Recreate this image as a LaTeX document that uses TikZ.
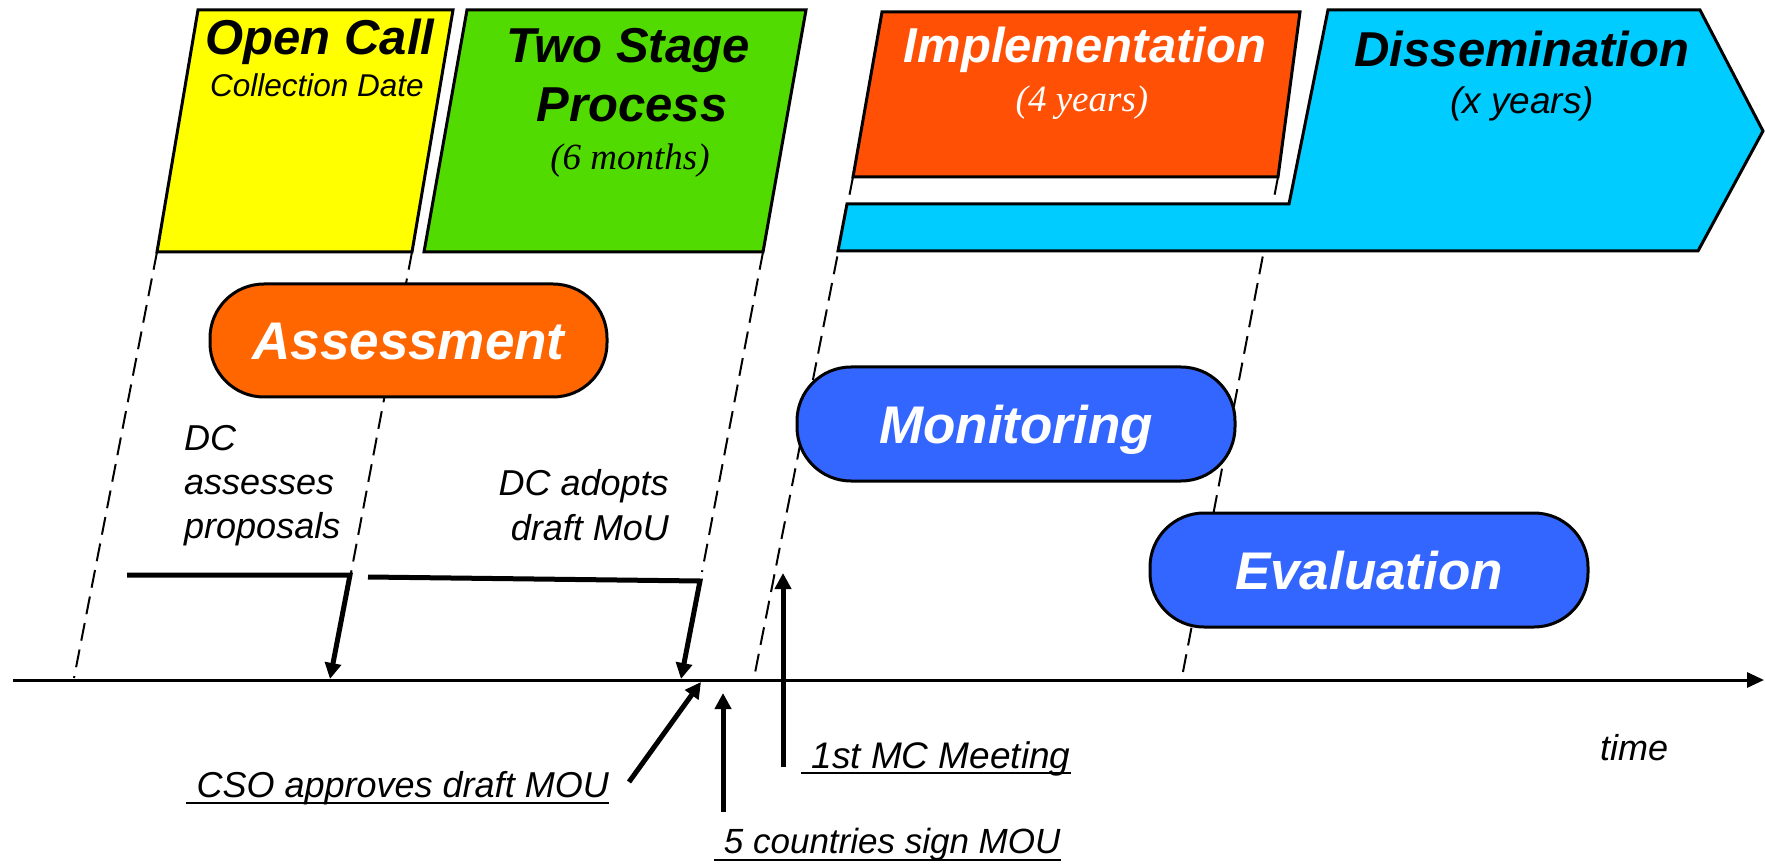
\documentclass[tikz,border=0pt]{standalone}
\usepackage{fontspec}
\setmainfont{Liberation Sans}
\newfontfamily\timesf{Liberation Serif}
\usetikzlibrary{arrows.meta}
\definecolor{ycol}{HTML}{FFFF00}
\definecolor{gcol}{HTML}{52DB00}
\definecolor{icol}{HTML}{FF5005}
\definecolor{dcol}{HTML}{00CCFF}
\definecolor{acol}{HTML}{FF6600}
\definecolor{bcol}{HTML}{3366FF}
\newcommand\fsz[1]{\fontsize{#1}{#1}\selectfont}
\begin{document}
\begin{tikzpicture}[x=1pt,y=-1pt,
  phase/.style={draw=black,line width=3pt,line join=miter},
  pill/.style={draw=black,line width=3pt,rounded corners=54pt,inner sep=0pt,
     text height=38pt,text depth=0pt,font=\fsz{53}\bfseries\itshape,text=white},
  guide/.style={line width=2pt,dash pattern=on 18pt off 9pt},
  title/.style={inner sep=0pt,anchor=base,font=\fsz{49}\bfseries\itshape},
  sub/.style={inner sep=0pt,anchor=base},
  lbl/.style={inner sep=0pt,anchor=base west,font=\fsz{36}\itshape},
  lblr/.style={inner sep=0pt,anchor=base east,font=\fsz{36}\itshape},
  heavy/.style={line width=5pt,line join=miter,-{Triangle[length=16pt,width=16pt]}},
  uline/.style={line width=2.5pt},
]
\useasboundingbox (0,0) rectangle (1765,866);
\fill[white] (0,0) rectangle (1765,866);

% dashed guide lines
\coordinate (g1a) at (157,252); \coordinate (g1b) at (74,678);
\coordinate (g2a) at (412,252); \coordinate (g2b) at (351,573);
\coordinate (g3a) at (763,252); \coordinate (g3b) at (702,572);
\coordinate (g4a) at (853,177); \coordinate (g4b) at (754,678);
\coordinate (g5a) at (1278,177); \coordinate (g5b) at (1182,677);
\draw[guide] (g1a) -- (g1b);
\draw[guide] (g2a) -- (g2b);
\draw[guide] (g3a) -- (g3b);
\draw[guide] (g4a) -- (g4b);
\draw[guide] (g5a) -- (g5b);

% phase shapes
\draw[phase,fill=ycol] (198,10) -- (453,10) -- (412,252) -- (157,252) -- cycle;
\draw[phase,fill=gcol] (467,10) -- (806,10) -- (763,252) -- (424,252) -- cycle;
\draw[phase,fill=dcol] (838,251) -- (847,204) -- (1289,204) -- (1328,10) -- (1700,10)
   -- (1763,131) -- (1698,251) -- cycle;
\draw[phase,fill=icol] (882,12) -- (1300,12) -- (1278,177) -- (853,177) -- cycle;

% phase texts
\node[title] (oc) at (320,55) {Open Call};
\node[sub,font=\fsz{31.5}\itshape] (cd) at (317,97) {Collection Date};
\node[title] (ts1) at (628,63) {Two Stage};
\node[title] (ts2) at (632,122) {Process};
\node[sub,font=\fsz{37}\timesf\itshape] (sm) at (630,170) {(6 months)};
\node[title,text=white] (im) at (1085,63) {Implementation};
\node[sub,font=\fsz{37}\timesf\itshape,text=white] (fy) at (1082,112) {(4 years)};
\node[title] (ds) at (1522,67) {Dissemination};
\node[sub,font=\fsz{37}\itshape] (xy) at (1522,114) {(x years)};

% activity pills
\node[pill,fill=acol,minimum width=397pt,minimum height=113pt] (assess) at (408.5,340.5) {Assessment};
\node[pill,fill=bcol,minimum width=438pt,minimum height=114pt] (monit) at (1016,424) {Monitoring};
\node[pill,fill=bcol,minimum width=438pt,minimum height=114pt] (evalu) at (1369,570) {Evaluation};

% labels above axis
\node[lbl] (dc1) at (184,450) {DC};
\node[lbl] (dc2) at (184,494) {assesses};
\node[lbl] (dc3) at (184,538) {proposals};
\node[lblr] (da1) at (669,495) {DC adopts};
\node[lblr] (da2) at (669,540) {draft MoU};

% time axis
\coordinate (axs) at (13,680);
\coordinate (axe) at (1764,680);
\draw[line width=3pt,-{Triangle[length=17pt,width=15pt]}] (axs) -- (axe);
\node[lbl] (time) at (1600,760) {time};

% bracket arrows
\coordinate (b1s) at (127,575); \coordinate (b1c) at (350,575); \coordinate (b1e) at (330,679);
\draw[heavy] (b1s) -- (b1c) -- (b1e);
\coordinate (b2s) at (368,577); \coordinate (b2c) at (700,581); \coordinate (b2e) at (681,679);
\draw[heavy] (b2s) -- (b2c) -- (b2e);

% milestone labels below axis
\node[lblr] (cso) at (609,797) {\ CSO approves draft MOU};
\draw[uline] ([yshift=-6pt]cso.base west) -- ([yshift=-6pt]cso.base east);
\node[lbl,font=\fsz{35}\itshape] (five) at (714,853) {\ 5 countries sign MOU};
\draw[uline] ([yshift=-7pt]five.base west) -- ([yshift=-7pt]five.base east);
\node[lbl,font=\fsz{37}\itshape] (mc) at (801,768) {\ 1st MC Meeting};
\draw[uline] ([yshift=-5pt]mc.base west) -- ([yshift=-5pt]mc.base east);

\coordinate (csoa) at (629,782); \coordinate (csob) at (701,682);
\draw[heavy] (csoa) -- (csob);
\coordinate (fivea) at (723,812); \coordinate (fiveb) at (723,693);
\draw[heavy] (fivea) -- (fiveb);
\coordinate (mca) at (783,767); \coordinate (mcb) at (783,573);
\draw[heavy] (mca) -- (mcb);
\end{tikzpicture}
\end{document}
